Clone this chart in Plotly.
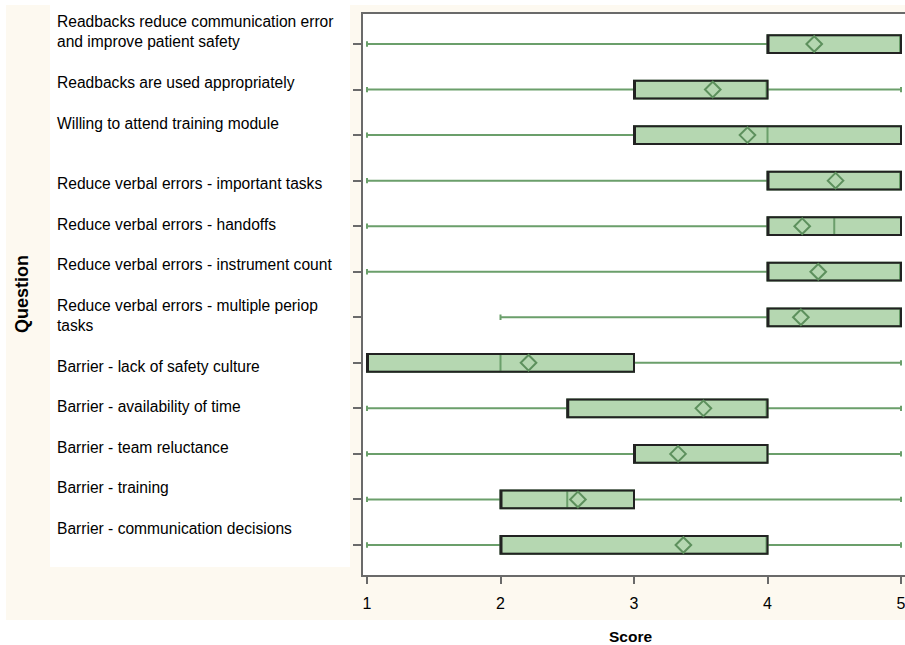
import plotly.graph_objects as go

# ---------------- data ----------------
questions = [
    "Readbacks reduce communication error<br>and improve patient safety",
    "Readbacks are used appropriately",
    "Willing to attend training module",
    "Reduce verbal errors - important tasks",
    "Reduce verbal errors - handoffs",
    "Reduce verbal errors - instrument count",
    "Reduce verbal errors - multiple periop<br>tasks",
    "Barrier - lack of safety culture",
    "Barrier - availability of time",
    "Barrier - team reluctance",
    "Barrier - training",
    "Barrier - communication decisions",
]
score_min = [1, 1, 1, 1, 1, 1, 2, 1, 1, 1, 1, 1]
score_q1 = [4, 3, 3, 4, 4, 4, 4, 1, 2.5, 3, 2, 2]
score_median = [5, 4, 4, 5, 4.5, 5, 5, 2, 4, 3, 2.5, 4]
score_q3 = [5, 4, 5, 5, 5, 5, 5, 3, 4, 4, 3, 4]
score_max = [5, 5, 5, 5, 5, 5, 5, 5, 5, 5, 5, 5]
score_mean = [4.35, 3.59, 3.85, 4.51, 4.26, 4.38, 4.25, 2.21, 3.52, 3.33, 2.58, 3.37]
x_ticks = [1, 2, 3, 4, 5]

# ---------------- styling / layout constants ----------------
W, H = 905, 645
PL, PR, PT, PB = 363, 905, 14, 575          # plot area in pixels
FILL = "#b5d7b1"
GREEN = "#6b9f6b"
DIAMOND = "#5d905d"
OUTLINE = "#222222"
AXIS = "#6a6a6a"
CREAM = "#fdf9f0"
FONT = "Liberation Sans, Arial, sans-serif"
TEXT = "#000000"

# label text block: first line centre, line pitch, starting line of each label
LABEL_Y0, LABEL_PITCH = 21.7, 20.26
label_line_start = [0, 3, 5, 8, 10, 12, 14, 17, 19, 21, 23, 25]

pos = list(range(len(questions)))


def px_to_paper_x(px):
    return (px - PL) / (PR - PL)


def px_to_paper_y(py):
    return (PB - py) / (PB - PT)


fig = go.Figure()

# whiskers, median and fill (green lines)
fig.add_trace(go.Box(
    y=pos, q1=score_q1, median=score_median, q3=score_q3,
    lowerfence=score_min, upperfence=score_max,
    orientation="h", width=0.39, whiskerwidth=0.3,
    fillcolor=FILL, line=dict(color=GREEN, width=2),
    boxpoints=False, showlegend=False, hoverinfo="skip",
))
# dark box outline on top
fig.add_trace(go.Box(
    y=pos, q1=score_q1, median=score_q1, q3=score_q3,
    lowerfence=score_q1, upperfence=score_q3,
    orientation="h", width=0.39, whiskerwidth=0,
    fillcolor="rgba(0,0,0,0)", line=dict(color=OUTLINE, width=2),
    boxpoints=False, showlegend=False, hoverinfo="skip",
))
# means
fig.add_trace(go.Scatter(
    x=score_mean, y=pos, mode="markers",
    marker=dict(symbol="diamond-open", size=12, color=DIAMOND,
                line=dict(width=2, color=DIAMOND)),
    showlegend=False, hoverinfo="skip",
))

n = len(questions)
pad = 0.659
fig.update_yaxes(
    range=[n - 1 + pad, -pad], tickvals=pos, showticklabels=False,
    ticks="outside", ticklen=8, tickwidth=1.5, tickcolor=AXIS,
    showline=True, linecolor=AXIS, linewidth=1.5, mirror=False,
    showgrid=False, zeroline=False,
)
fig.update_xaxes(
    range=[0.97, 5.03], tickvals=x_ticks, ticktext=[str(t) for t in x_ticks],
    ticks="outside", ticklen=7, tickwidth=1.5, tickcolor=AXIS,
    showline=True, linecolor=AXIS, linewidth=1.5, mirror=True,
    showgrid=False, zeroline=False, ticklabelstandoff=6,
    ticklabeloverflow="allow",
    tickfont=dict(family=FONT, size=16, color=TEXT),
)

shapes = [
    dict(type="rect", xref="paper", yref="paper", layer="below",
         x0=px_to_paper_x(6), x1=px_to_paper_x(905),
         y0=px_to_paper_y(620), y1=px_to_paper_y(5),
         fillcolor=CREAM, line=dict(width=0)),
    dict(type="rect", xref="paper", yref="paper", layer="below",
         x0=0, x1=1, y0=0, y1=1, fillcolor="white", line=dict(width=0)),
    dict(type="rect", xref="paper", yref="paper", layer="below",
         x0=px_to_paper_x(50), x1=px_to_paper_x(350),
         y0=px_to_paper_y(567), y1=px_to_paper_y(5),
         fillcolor="white", line=dict(width=0)),
]

annotations = []
for q, start in zip(questions, label_line_start):
    for k, line in enumerate(q.split("<br>")):
        py = LABEL_Y0 + (start + k) * LABEL_PITCH
        annotations.append(dict(
            text=line, xref="paper", yref="paper",
            x=px_to_paper_x(55), y=px_to_paper_y(py),
            xanchor="left", yanchor="middle", showarrow=False,
            font=dict(family=FONT, size=15.6, color=TEXT),
        ))
annotations.append(dict(
    text="<b>Question</b>", xref="paper", yref="paper",
    x=px_to_paper_x(22), y=px_to_paper_y(294), textangle=-90,
    xanchor="center", yanchor="middle", showarrow=False,
    font=dict(family=FONT, size=18, color=TEXT),
))
annotations.append(dict(
    text="<b>Score</b>", xref="paper", yref="paper",
    x=px_to_paper_x(630), y=px_to_paper_y(636),
    xanchor="center", yanchor="middle", showarrow=False,
    font=dict(family=FONT, size=15.5, color=TEXT),
))

fig.update_layout(
    width=W, height=H,
    margin=dict(l=PL, r=W - PR, t=PT, b=H - PB, pad=0),
    paper_bgcolor="white", plot_bgcolor="white",
    boxmode="overlay",
    shapes=shapes, annotations=annotations,
    font=dict(family=FONT, size=15, color=TEXT),
)

fig.write_html("out.html", config={"displayModeBar": False},
               post_script="document.body.style.margin='0px';")
